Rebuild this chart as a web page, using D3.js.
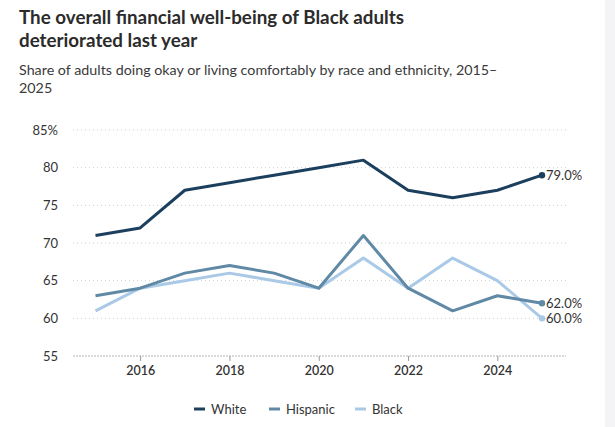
<!DOCTYPE html>
<html><head><meta charset="utf-8">
<script src="https://cdn.jsdelivr.net/npm/d3@7"></script>
<style>
body{margin:0;background:#fff;}
svg{display:block;font-family:Lato,"Open Sans",sans-serif;}
</style></head>
<body><svg id="c" width="615" height="427"></svg>
<script>
const years = [2015,2016,2017,2018,2019,2020,2021,2022,2023,2024,2025];
const white = [71,72,77,78,79,80,81,77,76,77,79];
const hispanic = [63,64,66,67,66,64,71,64,61,63,62];
const black = [61,64,65,66,65,64,68,64,68,65,60];
const seriesNames = ["White","Hispanic","Black"];
const seriesColors = ["#1c3f5e","#6089a6","#a9c9e6"];
const yTicks = [55,60,65,70,75,80,85];
const xTicks = [2016,2018,2020,2022,2024];

const svg = d3.select("#c");
svg.append("rect").attr("x",605).attr("y",0).attr("width",10).attr("height",427).attr("fill","#f4f4f6");

svg.append("text").attr("x",19).attr("y",24).attr("font-size",18.8).attr("font-weight",700).attr("fill","#2b2b2b").text("The overall financial well-being of Black adults");
svg.append("text").attr("x",19).attr("y",47).attr("font-size",18.8).attr("font-weight",700).attr("fill","#2b2b2b").text("deteriorated last year");
svg.append("text").attr("x",19).attr("y",75).attr("font-size",14.3).attr("fill","#3a3a3a").text("Share of adults doing okay or living comfortably by race and ethnicity, 2015–");
svg.append("text").attr("x",19).attr("y",93).attr("font-size",14.3).attr("fill","#3a3a3a").text("2025");

const x = d3.scaleLinear().domain([2015,2025]).range([95.5,542]);
const y = d3.scaleLinear().domain([55,85]).range([356,130]);
const gx0 = 73, gx1 = 566;

// grid
svg.append("g").selectAll("line").data(yTicks.filter(d=>d!==55)).join("line")
  .attr("x1",gx0).attr("x2",gx1).attr("y1",d=>y(d)).attr("y2",d=>y(d))
  .attr("stroke","#cfcfcf").attr("stroke-width",1).attr("stroke-dasharray","1,3");
// y labels
svg.append("g").selectAll("text").data(yTicks).join("text")
  .attr("x",58).attr("y",d=>y(d)+4.5).attr("text-anchor","end").attr("font-size",13).attr("fill","#333")
  .text(d=>d===85?"85%":d);
// x axis
const xAxis = d3.axisBottom(x).tickValues(xTicks).tickFormat(d3.format("d")).tickSize(5).tickPadding(5);
const gX = svg.append("g").attr("transform",`translate(0,${y(55)})`).call(xAxis);
gX.select(".domain").remove();
gX.insert("line",":first-child").attr("x1",gx0).attr("x2",gx1).attr("stroke","#b5b5b5").attr("stroke-dasharray","2,1");
gX.selectAll(".tick line").attr("stroke","#999");
gX.selectAll(".tick text").attr("font-size",12.5).attr("fill","#333").attr("font-family","Lato,sans-serif").attr("font-weight",600);

const data = [white,hispanic,black];
const line = d3.line().x((d,i)=>x(years[i])).y(d=>y(d));
const order = [2,1,0];
order.forEach(k=>{
  svg.append("path").datum(data[k]).attr("d",line).attr("fill","none")
    .attr("stroke",seriesColors[k]).attr("stroke-width",3).attr("stroke-linejoin","round");
});
order.forEach(k=>{
  const v = data[k][data[k].length-1];
  svg.append("circle").attr("cx",x(2025)).attr("cy",y(v)).attr("r",3.2).attr("fill",seriesColors[k]);
  svg.append("text").attr("x",x(2025)+4).attr("y",y(v)+5).attr("font-size",13).attr("fill","#333").text(v.toFixed(1)+"%");
});

// legend
const lx = [194,269,355];
seriesNames.forEach((n,i)=>{
  svg.append("line").attr("x1",lx[i]).attr("x2",lx[i]+11).attr("y1",409).attr("y2",409)
    .attr("stroke",seriesColors[i]).attr("stroke-width",3);
  svg.append("text").attr("x",lx[i]+17).attr("y",414).attr("font-size",13).attr("fill","#333").text(n);
});
</script></body></html>
